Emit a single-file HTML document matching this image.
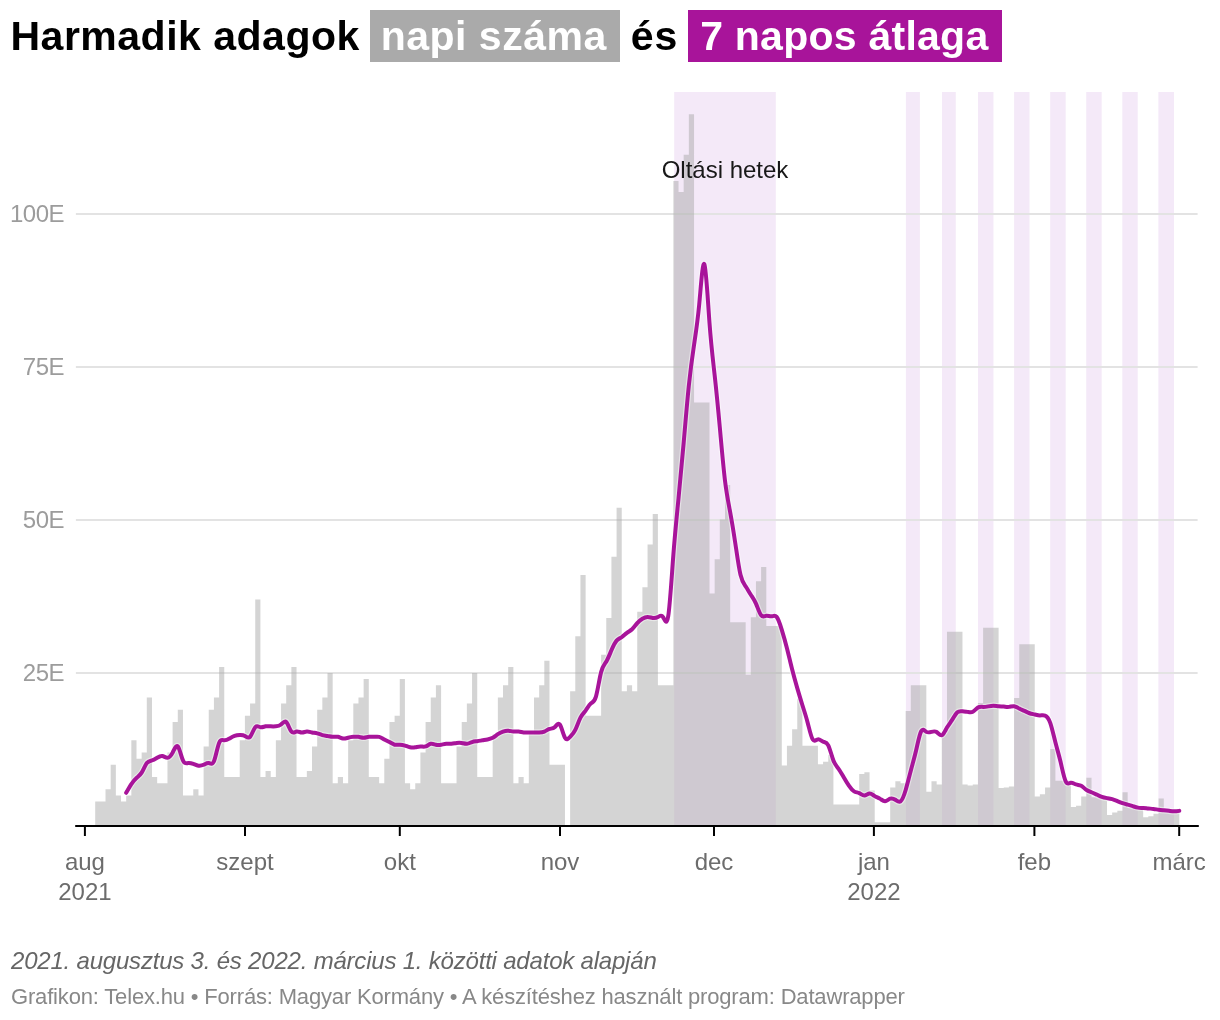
<!DOCTYPE html>
<html lang="hu">
<head>
<meta charset="utf-8">
<title>Harmadik adagok napi száma és 7 napos átlaga</title>
<style>
html,body{margin:0;padding:0;background:#fff;}
body{width:1220px;height:1020px;position:relative;overflow:hidden;font-family:"Liberation Sans",Arial,sans-serif;}
.chart{position:absolute;left:0;top:0;width:1220px;height:1020px;}
h1{position:absolute;left:0;top:0;margin:0;width:1220px;height:72px;font-size:41px;font-weight:bold;color:#000;white-space:nowrap;line-height:53px;}
h1 span{position:absolute;top:10px;height:51.7px;display:block;letter-spacing:0.5px;}
h1 .key{color:#fff;text-align:center;}
.k1{background:#aaaaaa;left:370.1px;width:249.6px;box-sizing:border-box;padding-right:2.4px;}
.k2{background:#a8149a;left:688.1px;width:313.8px;box-sizing:border-box;padding-right:1.4px;}
h1 span.k2{letter-spacing:0.25px;}
.notes{position:absolute;left:11px;top:946px;margin:0;font-size:24px;font-style:italic;color:#666;white-space:nowrap;letter-spacing:-0.2px;line-height:30px;}
.footer{position:absolute;left:11px;top:983px;margin:0;font-size:22px;color:#888;white-space:nowrap;letter-spacing:-0.17px;line-height:28px;}
svg text{font-family:"Liberation Sans",Arial,sans-serif;font-size:24px;}
</style>
</head>
<body>
<h1><span style="left:10.5px">Harmadik adagok</span><span class="key k1">napi száma</span><span style="left:630.8px;letter-spacing:1px">és</span><span class="key k2">7 napos átlaga</span></h1>
<svg class="chart" width="1220" height="1020" viewBox="0 0 1220 1020">
<g fill="#f4e9f8"><rect x="674.2" y="92" width="101.6" height="734"/><rect x="905.9" y="92" width="14" height="734"/><rect x="941.97" y="92" width="13.8" height="734"/><rect x="978.04" y="92" width="15.4" height="734"/><rect x="1014.11" y="92" width="15.4" height="734"/><rect x="1050.18" y="92" width="15.5" height="734"/><rect x="1086.25" y="92" width="15.4" height="734"/><rect x="1122.32" y="92" width="15.4" height="734"/><rect x="1158.39" y="92" width="15.6" height="734"/></g>
<g stroke="#e3e3e3" stroke-width="2"><line x1="75.9" x2="1197.6" y1="214" y2="214"/><line x1="75.9" x2="1197.6" y1="367" y2="367"/><line x1="75.9" x2="1197.6" y1="520" y2="520"/><line x1="75.9" x2="1197.6" y1="673" y2="673"/></g>
<g fill="#9c9c9c" text-anchor="end" letter-spacing="-0.5"><text x="64" y="222">100E</text><text x="64" y="375">75E</text><text x="64" y="528">50E</text><text x="64" y="681">25E</text></g>
<path d="M95.2,826V801.52H100.36V801.52H105.52V789.28H110.69V764.8H115.85V795.4H121.01V801.52H126.17V795.4H131.34V740.32H136.5V758.68H141.66V752.56H146.82V697.48H151.99V777.04H157.15V783.16H162.31V783.16H167.47V752.56H172.63V721.96H177.8V709.72H182.96V795.4H188.12V795.4H193.28V789.28H198.45V795.4H203.61V746.44H208.77V709.72H213.93V697.48H219.1V666.88H224.26V777.04H229.42V777.04H234.58V777.04H239.74V740.32H244.91V715.84H250.07V703.6H255.23V599.56H260.39V777.04H265.56V770.92H270.72V777.04H275.88V740.32H281.04V703.6H286.21V685.24H291.37V666.88H296.53V777.04H301.69V777.04H306.85V770.92H312.02V746.44H317.18V709.72H322.34V697.48H327.5V673H332.67V783.16H337.83V777.04H342.99V783.16H348.15V740.32H353.31V703.6H358.48V697.48H363.64V679.12H368.8V777.04H373.96V777.04H379.13V783.16H384.29V758.68H389.45V721.96H394.61V715.84H399.78V679.12H404.94V783.16H410.1V789.28H415.26V783.16H420.42V752.56H425.59V721.96H430.75V697.48H435.91V685.24H441.07V783.16H446.24V783.16H451.4V783.16H456.56V746.44H461.72V721.96H466.89V703.6H472.05V673H477.21V777.04H482.37V777.04H487.53V777.04H492.7V734.2H497.86V697.48H503.02V685.24H508.18V666.88H513.35V783.16H518.51V777.04H523.67V783.16H528.83V734.2H534V697.48H539.16V685.24H544.32V660.76H549.48V764.8H554.64V764.8H559.81V764.8H564.97V826H570.13V691.36H575.29V636.28H580.46V575.08H585.62V715.84H590.78V715.84H595.94V715.84H601.11V654.64H606.27V617.92H611.43V556.72H616.59V507.76H621.75V691.36H626.92V685.24H632.08V691.36H637.24V611.8H642.4V587.32H647.57V544.48H652.73V513.88H657.89V685.24H663.05V685.24H668.22V685.24H673.38V180.95H678.54V191.97H683.7V154.64H688.86V114.24H694.03V402.5H699.19V402.5H704.35V402.5H709.51V593.44H714.68V559.17H719.84V519.39H725V485.12H730.16V622.2H735.33V622.2H740.49V622.2H745.65V674.84H750.81V617.31H755.97V581.2H761.14V567.12H766.3V625.88H771.46V625.88H776.62V625.88H781.79V765.41H786.95V745.83H792.11V729.3H797.27V698.7H802.44V745.83H807.6V745.83H812.76V745.83H817.92V764.19H823.08V761.74H828.25V755.01H833.41V804.58H838.57V804.58H843.73V804.58H848.9V804.58H854.06V804.58H859.22V773.98H864.38V772.14H869.55V790.5H874.71V822.33H879.87V822.33H885.03V822.33H890.19V787.44H895.36V781.32H900.52V783.16H905.68V710.94H910.84V685.24H916.01V685.24H921.17V685.24H926.33V791.73H931.49V781.32H936.65V784.38H941.82V733.59H946.98V631.69H952.14V631.69H957.3V631.69H962.47V784.38H967.63V785.61H972.79V784.38H977.95V702.99H983.12V627.71H988.28V627.71H993.44V627.71H998.6V788.06H1003.76V787.44H1008.93V786.53H1014.09V698.09H1019.25V644.24H1024.41V644.24H1029.58V644.24H1034.74V796.62H1039.9V794.18H1045.06V787.44H1050.23V748.89H1055.39V780.71H1060.55V780.71H1065.71V780.71H1070.87V807.03H1076.04V805.8H1081.2V796.62H1086.36V777.65H1091.52V797.24H1096.69V797.24H1101.85V797.24H1107.01V814.98H1112.17V812.54H1117.34V810.7H1122.5V792.34H1127.66V807.64H1132.82V807.64H1137.98V807.64H1143.15V817.13H1148.31V816.21H1153.47V813.76H1158.63V798.46H1163.8V811.31H1168.96V811.31H1174.12V811.31H1179.28V826Z" fill="#aaaaaa" fill-opacity="0.5"/>
<path d="M126.17,792.78C127.89,789.69,129.62,786.6,131.34,784.03C133.06,781.47,134.78,779.42,136.5,777.91C138.22,776.41,139.94,775.45,141.66,772.67C143.38,769.89,145.1,765.29,146.82,763.05C148.54,760.81,150.26,760.92,151.99,760.43C153.71,759.94,155.43,758.85,157.15,757.81C158.87,756.76,160.59,755.76,162.31,756.06C164.03,756.35,165.75,757.94,167.47,757.81C169.19,757.68,170.91,755.83,172.63,752.56C174.36,749.29,176.08,744.59,177.8,746.44C179.52,748.29,181.24,756.68,182.96,760.43C184.68,764.18,186.4,763.28,188.12,763.05C189.84,762.83,191.56,763.28,193.28,763.93C195,764.57,196.73,765.42,198.45,765.67C200.17,765.93,201.89,765.6,203.61,764.8C205.33,764,207.05,762.72,208.77,763.05C210.49,763.39,212.21,765.34,213.93,761.3C215.65,757.27,217.37,747.24,219.1,742.94C220.82,738.65,222.54,740.09,224.26,740.32C225.98,740.55,227.7,739.57,229.42,738.57C231.14,737.57,232.86,736.55,234.58,735.95C236.3,735.35,238.02,735.16,239.74,735.07C241.47,734.99,243.19,735.01,244.91,735.95C246.63,736.89,248.35,738.74,250.07,736.82C251.79,734.91,253.51,729.22,255.23,727.21C256.95,725.19,258.67,726.84,260.39,727.21C262.11,727.58,263.84,726.67,265.56,726.33C267.28,725.99,269,726.22,270.72,726.33C272.44,726.44,274.16,726.43,275.88,726.33C277.6,726.23,279.32,726.05,281.04,724.58C282.76,723.12,284.48,720.37,286.21,721.96C287.93,723.55,289.65,729.49,291.37,731.58C293.09,733.67,294.81,731.91,296.53,731.58C298.25,731.25,299.97,732.34,301.69,732.45C303.41,732.56,305.13,731.69,306.85,731.58C308.58,731.46,310.3,732.1,312.02,732.45C313.74,732.8,315.46,732.87,317.18,733.33C318.9,733.78,320.62,734.61,322.34,735.07C324.06,735.54,325.78,735.64,327.5,735.95C329.22,736.26,330.95,736.77,332.67,736.82C334.39,736.87,336.11,736.46,337.83,736.82C339.55,737.19,341.27,738.33,342.99,738.57C344.71,738.81,346.43,738.15,348.15,737.7C349.87,737.24,351.59,736.99,353.31,736.82C355.04,736.65,356.76,736.56,358.48,736.82C360.2,737.09,361.92,737.71,363.64,737.7C365.36,737.68,367.08,737.02,368.8,736.82C370.52,736.62,372.24,736.88,373.96,736.82C375.68,736.77,377.41,736.39,379.13,736.82C380.85,737.25,382.57,738.48,384.29,739.45C386.01,740.41,387.73,741.1,389.45,742.07C391.17,743.03,392.89,744.27,394.61,744.69C396.33,745.11,398.05,744.72,399.78,744.69C401.5,744.66,403.22,745,404.94,745.57C406.66,746.14,408.38,746.94,410.1,747.31C411.82,747.69,413.54,747.63,415.26,747.31C416.98,747,418.7,746.44,420.42,746.44C422.15,746.44,423.87,747,425.59,746.44C427.31,745.88,429.03,744.21,430.75,743.82C432.47,743.42,434.19,744.3,435.91,744.69C437.63,745.08,439.35,744.98,441.07,744.69C442.79,744.4,444.52,743.93,446.24,743.82C447.96,743.7,449.68,743.94,451.4,743.82C453.12,743.7,454.84,743.21,456.56,742.94C458.28,742.67,460,742.62,461.72,742.94C463.44,743.27,465.16,743.98,466.89,743.82C468.61,743.66,470.33,742.63,472.05,742.07C473.77,741.51,475.49,741.42,477.21,741.19C478.93,740.97,480.65,740.61,482.37,740.32C484.09,740.03,485.81,739.79,487.53,739.45C489.26,739.1,490.98,738.64,492.7,737.7C494.42,736.76,496.14,735.34,497.86,734.2C499.58,733.06,501.3,732.2,503.02,731.58C504.74,730.96,506.46,730.59,508.18,730.7C509.9,730.82,511.63,731.42,513.35,731.58C515.07,731.73,516.79,731.45,518.51,731.58C520.23,731.71,521.95,732.25,523.67,732.45C525.39,732.65,527.11,732.51,528.83,732.45C530.55,732.4,532.27,732.43,534,732.45C535.72,732.48,537.44,732.49,539.16,732.45C540.88,732.41,542.6,732.31,544.32,731.58C546.04,730.85,547.76,729.48,549.48,728.95C551.2,728.43,552.92,728.73,554.64,727.21C556.37,725.68,558.09,722.32,559.81,724.58C561.53,726.85,563.25,734.75,564.97,737.7C566.69,740.65,568.41,738.65,570.13,736.82C571.85,735,573.57,733.34,575.29,729.83C577.01,726.32,578.74,720.95,580.46,717.59C582.18,714.23,583.9,712.89,585.62,710.59C587.34,708.3,589.06,705.06,590.78,703.6C592.5,702.14,594.22,702.47,595.94,696.61C597.66,690.75,599.38,678.7,601.11,672.13C602.83,665.55,604.55,664.44,606.27,661.63C607.99,658.83,609.71,654.32,611.43,650.27C613.15,646.22,614.87,642.63,616.59,640.65C618.31,638.67,620.03,638.31,621.75,637.15C623.48,636,625.2,634.06,626.92,632.78C628.64,631.5,630.36,630.88,632.08,629.29C633.8,627.69,635.52,625.13,637.24,623.17C638.96,621.2,640.68,619.83,642.4,618.79C644.12,617.76,645.85,617.07,647.57,617.05C649.29,617.02,651.01,617.68,652.73,617.92C654.45,618.16,656.17,618,657.89,617.05C659.61,616.1,661.33,614.36,663.05,617.05C664.77,619.73,666.49,626.83,668.22,616.17C669.94,605.51,671.66,577.09,673.38,554.62C675.1,532.16,676.82,515.65,678.54,498.14C680.26,480.64,681.98,462.13,683.7,442.45C685.42,422.78,687.14,401.93,688.86,385.36C690.59,368.79,692.31,356.48,694.03,344.97C695.75,333.46,697.47,322.75,699.19,304.58C700.91,286.41,702.63,260.78,704.35,264.18C706.07,267.59,707.79,300.03,709.51,323.11C711.23,346.19,712.96,359.91,714.68,375.57C716.4,391.23,718.12,408.83,719.84,427.68C721.56,446.52,723.28,466.6,725,480.66C726.72,494.72,728.44,502.76,730.16,512.04C731.88,521.33,733.6,531.87,735.33,543.43C737.05,554.99,738.77,567.58,740.49,574.82C742.21,582.05,743.93,583.94,745.65,586.45C747.37,588.95,749.09,592.08,750.81,594.75C752.53,597.43,754.25,599.65,755.97,603.58C757.7,607.52,759.42,613.16,761.14,615.3C762.86,617.43,764.58,616.05,766.3,615.82C768.02,615.6,769.74,616.53,771.46,616.35C773.18,616.16,774.9,614.87,776.62,616.87C778.34,618.87,780.07,624.18,781.79,629.81C783.51,635.44,785.23,641.4,786.95,648.17C788.67,654.94,790.39,662.51,792.11,669.33C793.83,676.15,795.55,682.21,797.27,688.13C798.99,694.04,800.71,699.8,802.44,705.26C804.16,710.72,805.88,715.87,807.6,722.4C809.32,728.93,811.04,736.84,812.76,739.53C814.48,742.22,816.2,739.68,817.92,739.36C819.64,739.03,821.36,740.92,823.08,741.63C824.81,742.35,826.53,741.89,828.25,745.3C829.97,748.71,831.69,755.99,833.41,760.43C835.13,764.87,836.85,766.48,838.57,768.82C840.29,771.16,842.01,774.24,843.73,777.21C845.45,780.19,847.18,783.07,848.9,785.61C850.62,788.14,852.34,790.33,854.06,791.38C855.78,792.42,857.5,792.32,859.22,793.13C860.94,793.93,862.66,795.64,864.38,795.57C866.1,795.51,867.82,793.68,869.55,793.56C871.27,793.45,872.99,795.06,874.71,796.1C876.43,797.14,878.15,797.61,879.87,798.63C881.59,799.66,883.31,801.25,885.03,801.17C886.75,801.09,888.47,799.33,890.19,798.72C891.91,798.11,893.64,798.64,895.36,799.77C897.08,800.9,898.8,802.63,900.52,801.35C902.24,800.06,903.96,795.77,905.68,789.98C907.4,784.19,909.12,776.9,910.84,770.4C912.56,763.9,914.28,758.19,916.01,750.81C917.73,743.44,919.45,734.39,921.17,731.23C922.89,728.06,924.61,730.77,926.33,731.84C928.05,732.91,929.77,732.35,931.49,731.84C933.21,731.33,934.93,730.87,936.65,732.01C938.38,733.15,940.1,735.89,941.82,735.25C943.54,734.61,945.26,730.59,946.98,727.6C948.7,724.61,950.42,722.64,952.14,719.95C953.86,717.26,955.58,713.85,957.3,712.3C959.02,710.75,960.75,711.06,962.47,711.25C964.19,711.44,965.91,711.53,967.63,711.86C969.35,712.2,971.07,712.78,972.79,711.86C974.51,710.94,976.23,708.51,977.95,707.49C979.67,706.48,981.39,706.88,983.12,706.92C984.84,706.97,986.56,706.66,988.28,706.35C990,706.05,991.72,705.76,993.44,705.79C995.16,705.81,996.88,706.16,998.6,706.31C1000.32,706.46,1002.04,706.42,1003.76,706.57C1005.49,706.73,1007.21,707.07,1008.93,706.88C1010.65,706.68,1012.37,705.95,1014.09,706.18C1015.81,706.41,1017.53,707.62,1019.25,708.54C1020.97,709.46,1022.69,710.1,1024.41,710.9C1026.13,711.7,1027.86,712.66,1029.58,713.26C1031.3,713.86,1033.02,714.09,1034.74,714.48C1036.46,714.88,1038.18,715.43,1039.9,715.45C1041.62,715.46,1043.34,714.95,1045.06,715.58C1046.78,716.21,1048.5,717.99,1050.23,722.83C1051.95,727.68,1053.67,735.59,1055.39,742.33C1057.11,749.07,1058.83,754.64,1060.55,761.83C1062.27,769.01,1063.99,777.82,1065.71,781.32C1067.43,784.83,1069.15,783.04,1070.87,782.81C1072.6,782.58,1074.32,783.9,1076.04,784.47C1077.76,785.05,1079.48,784.88,1081.2,785.78C1082.92,786.69,1084.64,788.66,1086.36,789.89C1088.08,791.12,1089.8,791.6,1091.52,792.25C1093.24,792.91,1094.97,793.75,1096.69,794.61C1098.41,795.48,1100.13,796.38,1101.85,796.97C1103.57,797.57,1105.29,797.86,1107.01,798.11C1108.73,798.36,1110.45,798.58,1112.17,799.07C1113.89,799.56,1115.61,800.33,1117.34,801.08C1119.06,801.84,1120.78,802.59,1122.5,803.18C1124.22,803.77,1125.94,804.21,1127.66,804.67C1129.38,805.12,1131.1,805.6,1132.82,806.15C1134.54,806.71,1136.26,807.36,1137.98,807.64C1139.71,807.92,1141.43,807.85,1143.15,807.95C1144.87,808.04,1146.59,808.31,1148.31,808.47C1150.03,808.63,1151.75,808.68,1153.47,808.91C1155.19,809.13,1156.91,809.52,1158.63,809.78C1160.35,810.04,1162.08,810.16,1163.8,810.31C1165.52,810.45,1167.24,810.61,1168.96,810.83C1170.68,811.05,1172.4,811.34,1174.12,811.36C1175.84,811.37,1177.56,811.12,1179.28,810.87" fill="none" stroke="#fff" stroke-opacity="0.45" stroke-width="6.4" stroke-linecap="round" stroke-linejoin="round"/>
<path d="M126.17,792.78C127.89,789.69,129.62,786.6,131.34,784.03C133.06,781.47,134.78,779.42,136.5,777.91C138.22,776.41,139.94,775.45,141.66,772.67C143.38,769.89,145.1,765.29,146.82,763.05C148.54,760.81,150.26,760.92,151.99,760.43C153.71,759.94,155.43,758.85,157.15,757.81C158.87,756.76,160.59,755.76,162.31,756.06C164.03,756.35,165.75,757.94,167.47,757.81C169.19,757.68,170.91,755.83,172.63,752.56C174.36,749.29,176.08,744.59,177.8,746.44C179.52,748.29,181.24,756.68,182.96,760.43C184.68,764.18,186.4,763.28,188.12,763.05C189.84,762.83,191.56,763.28,193.28,763.93C195,764.57,196.73,765.42,198.45,765.67C200.17,765.93,201.89,765.6,203.61,764.8C205.33,764,207.05,762.72,208.77,763.05C210.49,763.39,212.21,765.34,213.93,761.3C215.65,757.27,217.37,747.24,219.1,742.94C220.82,738.65,222.54,740.09,224.26,740.32C225.98,740.55,227.7,739.57,229.42,738.57C231.14,737.57,232.86,736.55,234.58,735.95C236.3,735.35,238.02,735.16,239.74,735.07C241.47,734.99,243.19,735.01,244.91,735.95C246.63,736.89,248.35,738.74,250.07,736.82C251.79,734.91,253.51,729.22,255.23,727.21C256.95,725.19,258.67,726.84,260.39,727.21C262.11,727.58,263.84,726.67,265.56,726.33C267.28,725.99,269,726.22,270.72,726.33C272.44,726.44,274.16,726.43,275.88,726.33C277.6,726.23,279.32,726.05,281.04,724.58C282.76,723.12,284.48,720.37,286.21,721.96C287.93,723.55,289.65,729.49,291.37,731.58C293.09,733.67,294.81,731.91,296.53,731.58C298.25,731.25,299.97,732.34,301.69,732.45C303.41,732.56,305.13,731.69,306.85,731.58C308.58,731.46,310.3,732.1,312.02,732.45C313.74,732.8,315.46,732.87,317.18,733.33C318.9,733.78,320.62,734.61,322.34,735.07C324.06,735.54,325.78,735.64,327.5,735.95C329.22,736.26,330.95,736.77,332.67,736.82C334.39,736.87,336.11,736.46,337.83,736.82C339.55,737.19,341.27,738.33,342.99,738.57C344.71,738.81,346.43,738.15,348.15,737.7C349.87,737.24,351.59,736.99,353.31,736.82C355.04,736.65,356.76,736.56,358.48,736.82C360.2,737.09,361.92,737.71,363.64,737.7C365.36,737.68,367.08,737.02,368.8,736.82C370.52,736.62,372.24,736.88,373.96,736.82C375.68,736.77,377.41,736.39,379.13,736.82C380.85,737.25,382.57,738.48,384.29,739.45C386.01,740.41,387.73,741.1,389.45,742.07C391.17,743.03,392.89,744.27,394.61,744.69C396.33,745.11,398.05,744.72,399.78,744.69C401.5,744.66,403.22,745,404.94,745.57C406.66,746.14,408.38,746.94,410.1,747.31C411.82,747.69,413.54,747.63,415.26,747.31C416.98,747,418.7,746.44,420.42,746.44C422.15,746.44,423.87,747,425.59,746.44C427.31,745.88,429.03,744.21,430.75,743.82C432.47,743.42,434.19,744.3,435.91,744.69C437.63,745.08,439.35,744.98,441.07,744.69C442.79,744.4,444.52,743.93,446.24,743.82C447.96,743.7,449.68,743.94,451.4,743.82C453.12,743.7,454.84,743.21,456.56,742.94C458.28,742.67,460,742.62,461.72,742.94C463.44,743.27,465.16,743.98,466.89,743.82C468.61,743.66,470.33,742.63,472.05,742.07C473.77,741.51,475.49,741.42,477.21,741.19C478.93,740.97,480.65,740.61,482.37,740.32C484.09,740.03,485.81,739.79,487.53,739.45C489.26,739.1,490.98,738.64,492.7,737.7C494.42,736.76,496.14,735.34,497.86,734.2C499.58,733.06,501.3,732.2,503.02,731.58C504.74,730.96,506.46,730.59,508.18,730.7C509.9,730.82,511.63,731.42,513.35,731.58C515.07,731.73,516.79,731.45,518.51,731.58C520.23,731.71,521.95,732.25,523.67,732.45C525.39,732.65,527.11,732.51,528.83,732.45C530.55,732.4,532.27,732.43,534,732.45C535.72,732.48,537.44,732.49,539.16,732.45C540.88,732.41,542.6,732.31,544.32,731.58C546.04,730.85,547.76,729.48,549.48,728.95C551.2,728.43,552.92,728.73,554.64,727.21C556.37,725.68,558.09,722.32,559.81,724.58C561.53,726.85,563.25,734.75,564.97,737.7C566.69,740.65,568.41,738.65,570.13,736.82C571.85,735,573.57,733.34,575.29,729.83C577.01,726.32,578.74,720.95,580.46,717.59C582.18,714.23,583.9,712.89,585.62,710.59C587.34,708.3,589.06,705.06,590.78,703.6C592.5,702.14,594.22,702.47,595.94,696.61C597.66,690.75,599.38,678.7,601.11,672.13C602.83,665.55,604.55,664.44,606.27,661.63C607.99,658.83,609.71,654.32,611.43,650.27C613.15,646.22,614.87,642.63,616.59,640.65C618.31,638.67,620.03,638.31,621.75,637.15C623.48,636,625.2,634.06,626.92,632.78C628.64,631.5,630.36,630.88,632.08,629.29C633.8,627.69,635.52,625.13,637.24,623.17C638.96,621.2,640.68,619.83,642.4,618.79C644.12,617.76,645.85,617.07,647.57,617.05C649.29,617.02,651.01,617.68,652.73,617.92C654.45,618.16,656.17,618,657.89,617.05C659.61,616.1,661.33,614.36,663.05,617.05C664.77,619.73,666.49,626.83,668.22,616.17C669.94,605.51,671.66,577.09,673.38,554.62C675.1,532.16,676.82,515.65,678.54,498.14C680.26,480.64,681.98,462.13,683.7,442.45C685.42,422.78,687.14,401.93,688.86,385.36C690.59,368.79,692.31,356.48,694.03,344.97C695.75,333.46,697.47,322.75,699.19,304.58C700.91,286.41,702.63,260.78,704.35,264.18C706.07,267.59,707.79,300.03,709.51,323.11C711.23,346.19,712.96,359.91,714.68,375.57C716.4,391.23,718.12,408.83,719.84,427.68C721.56,446.52,723.28,466.6,725,480.66C726.72,494.72,728.44,502.76,730.16,512.04C731.88,521.33,733.6,531.87,735.33,543.43C737.05,554.99,738.77,567.58,740.49,574.82C742.21,582.05,743.93,583.94,745.65,586.45C747.37,588.95,749.09,592.08,750.81,594.75C752.53,597.43,754.25,599.65,755.97,603.58C757.7,607.52,759.42,613.16,761.14,615.3C762.86,617.43,764.58,616.05,766.3,615.82C768.02,615.6,769.74,616.53,771.46,616.35C773.18,616.16,774.9,614.87,776.62,616.87C778.34,618.87,780.07,624.18,781.79,629.81C783.51,635.44,785.23,641.4,786.95,648.17C788.67,654.94,790.39,662.51,792.11,669.33C793.83,676.15,795.55,682.21,797.27,688.13C798.99,694.04,800.71,699.8,802.44,705.26C804.16,710.72,805.88,715.87,807.6,722.4C809.32,728.93,811.04,736.84,812.76,739.53C814.48,742.22,816.2,739.68,817.92,739.36C819.64,739.03,821.36,740.92,823.08,741.63C824.81,742.35,826.53,741.89,828.25,745.3C829.97,748.71,831.69,755.99,833.41,760.43C835.13,764.87,836.85,766.48,838.57,768.82C840.29,771.16,842.01,774.24,843.73,777.21C845.45,780.19,847.18,783.07,848.9,785.61C850.62,788.14,852.34,790.33,854.06,791.38C855.78,792.42,857.5,792.32,859.22,793.13C860.94,793.93,862.66,795.64,864.38,795.57C866.1,795.51,867.82,793.68,869.55,793.56C871.27,793.45,872.99,795.06,874.71,796.1C876.43,797.14,878.15,797.61,879.87,798.63C881.59,799.66,883.31,801.25,885.03,801.17C886.75,801.09,888.47,799.33,890.19,798.72C891.91,798.11,893.64,798.64,895.36,799.77C897.08,800.9,898.8,802.63,900.52,801.35C902.24,800.06,903.96,795.77,905.68,789.98C907.4,784.19,909.12,776.9,910.84,770.4C912.56,763.9,914.28,758.19,916.01,750.81C917.73,743.44,919.45,734.39,921.17,731.23C922.89,728.06,924.61,730.77,926.33,731.84C928.05,732.91,929.77,732.35,931.49,731.84C933.21,731.33,934.93,730.87,936.65,732.01C938.38,733.15,940.1,735.89,941.82,735.25C943.54,734.61,945.26,730.59,946.98,727.6C948.7,724.61,950.42,722.64,952.14,719.95C953.86,717.26,955.58,713.85,957.3,712.3C959.02,710.75,960.75,711.06,962.47,711.25C964.19,711.44,965.91,711.53,967.63,711.86C969.35,712.2,971.07,712.78,972.79,711.86C974.51,710.94,976.23,708.51,977.95,707.49C979.67,706.48,981.39,706.88,983.12,706.92C984.84,706.97,986.56,706.66,988.28,706.35C990,706.05,991.72,705.76,993.44,705.79C995.16,705.81,996.88,706.16,998.6,706.31C1000.32,706.46,1002.04,706.42,1003.76,706.57C1005.49,706.73,1007.21,707.07,1008.93,706.88C1010.65,706.68,1012.37,705.95,1014.09,706.18C1015.81,706.41,1017.53,707.62,1019.25,708.54C1020.97,709.46,1022.69,710.1,1024.41,710.9C1026.13,711.7,1027.86,712.66,1029.58,713.26C1031.3,713.86,1033.02,714.09,1034.74,714.48C1036.46,714.88,1038.18,715.43,1039.9,715.45C1041.62,715.46,1043.34,714.95,1045.06,715.58C1046.78,716.21,1048.5,717.99,1050.23,722.83C1051.95,727.68,1053.67,735.59,1055.39,742.33C1057.11,749.07,1058.83,754.64,1060.55,761.83C1062.27,769.01,1063.99,777.82,1065.71,781.32C1067.43,784.83,1069.15,783.04,1070.87,782.81C1072.6,782.58,1074.32,783.9,1076.04,784.47C1077.76,785.05,1079.48,784.88,1081.2,785.78C1082.92,786.69,1084.64,788.66,1086.36,789.89C1088.08,791.12,1089.8,791.6,1091.52,792.25C1093.24,792.91,1094.97,793.75,1096.69,794.61C1098.41,795.48,1100.13,796.38,1101.85,796.97C1103.57,797.57,1105.29,797.86,1107.01,798.11C1108.73,798.36,1110.45,798.58,1112.17,799.07C1113.89,799.56,1115.61,800.33,1117.34,801.08C1119.06,801.84,1120.78,802.59,1122.5,803.18C1124.22,803.77,1125.94,804.21,1127.66,804.67C1129.38,805.12,1131.1,805.6,1132.82,806.15C1134.54,806.71,1136.26,807.36,1137.98,807.64C1139.71,807.92,1141.43,807.85,1143.15,807.95C1144.87,808.04,1146.59,808.31,1148.31,808.47C1150.03,808.63,1151.75,808.68,1153.47,808.91C1155.19,809.13,1156.91,809.52,1158.63,809.78C1160.35,810.04,1162.08,810.16,1163.8,810.31C1165.52,810.45,1167.24,810.61,1168.96,810.83C1170.68,811.05,1172.4,811.34,1174.12,811.36C1175.84,811.37,1177.56,811.12,1179.28,810.87" fill="none" stroke="#a8149a" stroke-width="4" stroke-linecap="round" stroke-linejoin="round"/>
<text x="725" y="178" text-anchor="middle" fill="#181818">Oltási hetek</text>
<line x1="75.2" x2="1198.8" y1="826" y2="826" stroke="#000" stroke-width="2"/>
<g stroke="#000" stroke-width="2"><line x1="84.9" x2="84.9" y1="826" y2="836"/><line x1="245" x2="245" y1="826" y2="836"/><line x1="399.8" x2="399.8" y1="826" y2="836"/><line x1="560" x2="560" y1="826" y2="836"/><line x1="714" x2="714" y1="826" y2="836"/><line x1="873.9" x2="873.9" y1="826" y2="836"/><line x1="1034.4" x2="1034.4" y1="826" y2="836"/><line x1="1179.2" x2="1179.2" y1="826" y2="836"/></g>
<g fill="#6c6c6c" text-anchor="middle"><text x="84.9" y="870">aug</text><text x="84.9" y="900">2021</text><text x="245" y="870">szept</text><text x="399.8" y="870">okt</text><text x="560" y="870">nov</text><text x="714" y="870">dec</text><text x="873.9" y="870">jan</text><text x="873.9" y="900">2022</text><text x="1034.4" y="870">feb</text><text x="1179.2" y="870">márc</text></g>
</svg>
<p class="notes">2021. augusztus 3. és 2022. március 1. közötti adatok alapján</p>
<p class="footer">Grafikon: Telex.hu • Forrás: Magyar Kormány • A készítéshez használt program: Datawrapper</p>
</body>
</html>
